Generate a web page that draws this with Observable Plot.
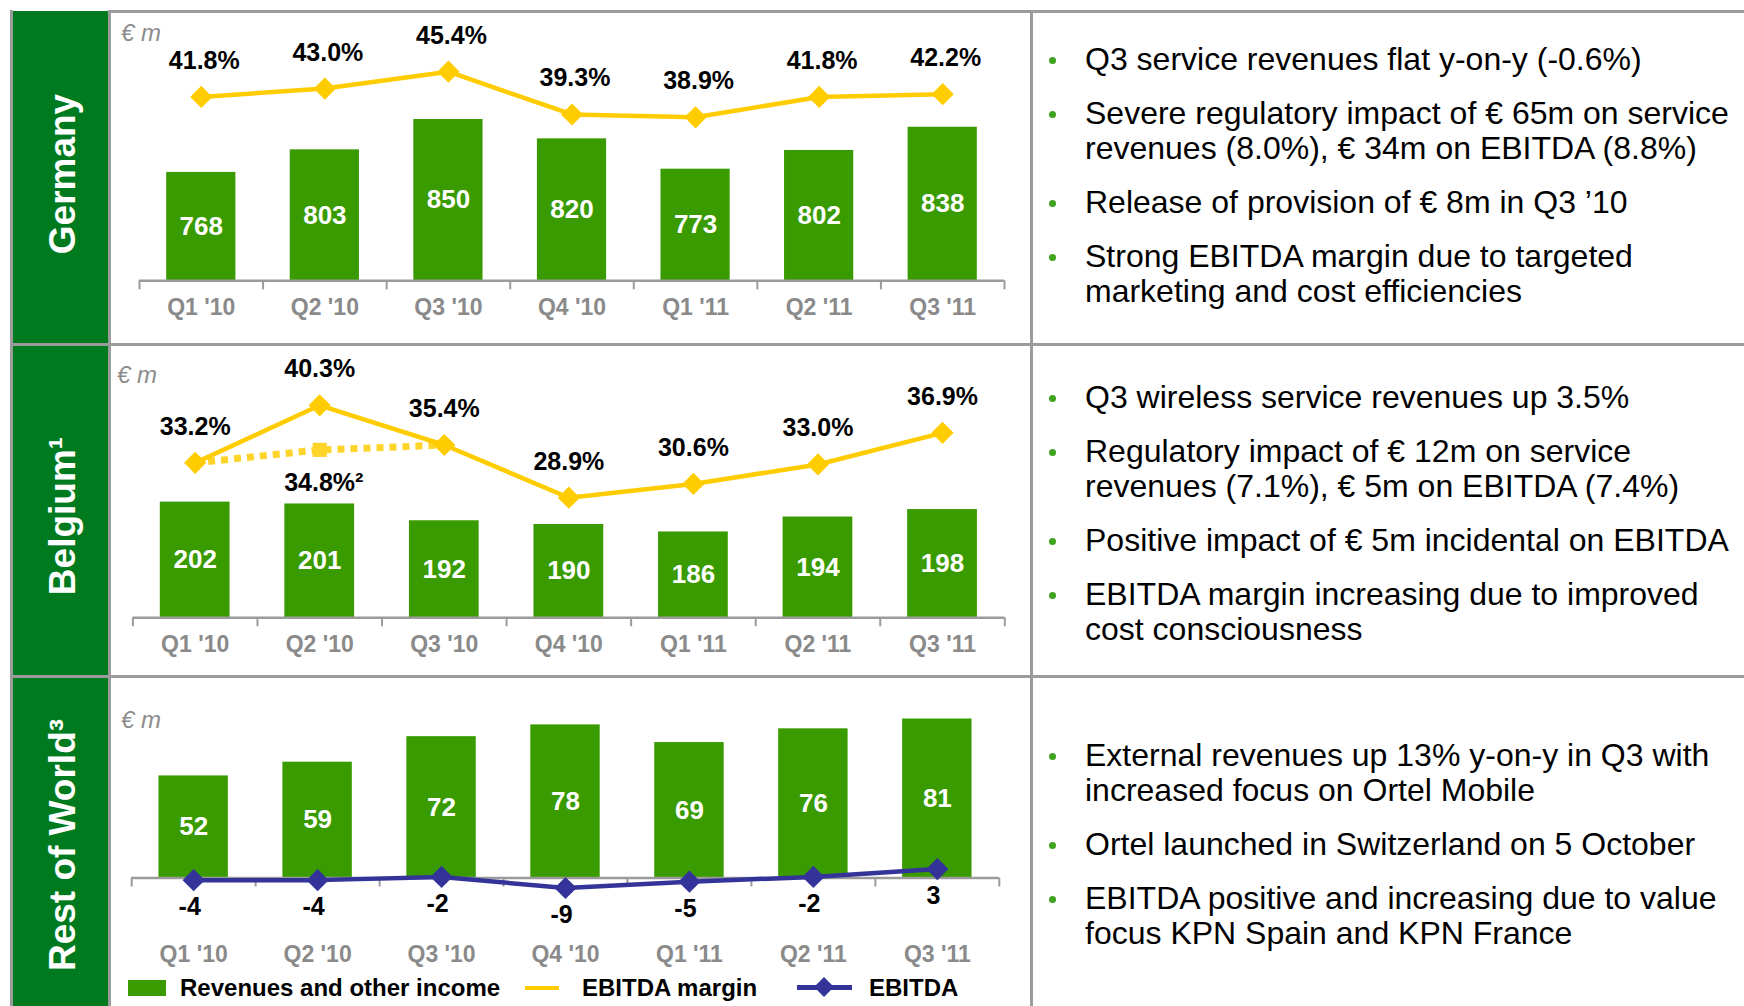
<!DOCTYPE html>
<html><head><meta charset="utf-8">
<script src="https://cdn.jsdelivr.net/npm/d3@7"></script>
<script src="https://cdn.jsdelivr.net/npm/@observablehq/plot@0.6"></script>
<style>
body{margin:0;background:#fff;}
#page{position:relative;width:1744px;height:1006px;overflow:hidden;font-family:"Liberation Sans",Arial,sans-serif;background:#fff;}
.hline{position:absolute;height:3px;background:#9B9B9B;}
.vline{position:absolute;width:3px;background:#9B9B9B;}
.band{position:absolute;background:#007A1E;}
.bandlabel{position:absolute;color:#fff;font-weight:bold;font-size:37px;white-space:nowrap;transform:translate(-50%,-50%) rotate(-90deg);}
.unit{position:absolute;color:#8C8C8C;font-style:italic;font-size:24px;line-height:24px;}
.bl{position:absolute;font-size:32px;color:#000;white-space:nowrap;line-height:36px;}
.dot{position:absolute;width:7px;height:7px;border-radius:50%;background:#3FA31E;}
.chart{position:absolute;}
.chart svg{position:absolute;left:0;top:0;overflow:visible;background:transparent;}
.lg{position:absolute;font-size:24px;font-weight:bold;color:#000;line-height:28px;white-space:nowrap;}
</style></head>
<body>
<div id="page"></div>
<script>
// ---------- DATA ----------
const quarters = ["Q1 '10", "Q2 '10", "Q3 '10", "Q4 '10", "Q1 '11", "Q2 '11", "Q3 '11"];

const germanyRevenue = [768, 803, 850, 820, 773, 802, 838];
const germanyMargin  = [41.8, 43.0, 45.4, 39.3, 38.9, 41.8, 42.2];

const belgiumRevenue = [202, 201, 192, 190, 186, 194, 198];
const belgiumMargin  = [33.2, 40.3, 35.4, 28.9, 30.6, 33.0, 36.9];
const belgiumAdjustedMargin = [33.2, 34.8, 35.4];   // Q1 '10 – Q3 '10, dotted
const belgiumAdjustedNote = "34.8%²";

const rowRevenue = [52, 59, 72, 78, 69, 76, 81];
const rowEbitda  = [-4, -4, -2, -9, -5, -2, 3];

const regionNames = ["Germany", "Belgium¹", "Rest of World³"];
const unitLabel = "€ m";

const germanyNotes = [
  ["Q3 service revenues flat y-on-y (-0.6%)"],
  ["Severe regulatory impact of € 65m on service", "revenues (8.0%), € 34m on EBITDA (8.8%)"],
  ["Release of provision of € 8m in Q3 ’10"],
  ["Strong EBITDA margin due to targeted", "marketing and cost efficiencies"]
];
const belgiumNotes = [
  ["Q3 wireless service revenues up 3.5%"],
  ["Regulatory impact of € 12m on service", "revenues (7.1%), € 5m on EBITDA (7.4%)"],
  ["Positive impact of € 5m incidental on EBITDA"],
  ["EBITDA margin increasing due to improved", "cost consciousness"]
];
const rowNotes = [
  ["External revenues up 13% y-on-y in Q3 with", "increased focus on Ortel Mobile"],
  ["Ortel launched in Switzerland on 5 October"],
  ["EBITDA positive and increasing due to value", "focus KPN Spain and KPN France"]
];

const legendLabels = ["Revenues and other income", "EBITDA margin", "EBITDA"];

// ---------- STYLE ----------
const BAR_GREEN = "#399B00";
const MARGIN_YELLOW = "#FFCC00";
const ADJ_YELLOW = "#FFD42A";
const EBITDA_BLUE = "#333399";
const AXIS_GRAY = "#9B9B9B";
const TICK_TEXT = "#8A8A8A";
const FONT = "'Liberation Sans', Arial, sans-serif";
const BAR_HALF = 0.28;
const CHART_W = 922;
const LINE_W = 4.5;
const MARKER_R = 10;

const page = document.getElementById("page");
function el(cls, css, text) {
  const d = document.createElement("div");
  d.className = cls;
  Object.assign(d.style, css);
  if (text != null) d.textContent = text;
  page.appendChild(d);
  return d;
}

// ---------- FRAME ----------
el("band", {left: "12px", top: "11px", width: "97px", height: "995px"});
el("vline", {left: "10px", top: "10px", height: "996px"});
el("vline", {left: "108px", top: "10px", height: "996px"});
el("vline", {left: "1030px", top: "10px", height: "996px"});
el("hline", {left: "108px", top: "10px", width: "1636px"});
el("hline", {left: "10px", top: "343px", width: "1734px"});
el("hline", {left: "10px", top: "675px", width: "1734px"});

// band labels
[[174, 0], [516, 1], [845, 2]].forEach(([cy, i]) => {
  el("bandlabel", {left: "63px", top: cy + "px"}, regionNames[i]);
});

// units
el("unit", {left: "121px", top: "21px"}, unitLabel);
el("unit", {left: "117px", top: "363px"}, unitLabel);
el("unit", {left: "121px", top: "708px"}, unitLabel);

// ---------- CHARTS ----------
const idx = d3.range(quarters.length);
const pct = v => v.toFixed(1) + "%";

function panel(cfg) {
  const box = el("chart", {left: "110px", top: cfg.top + "px", width: CHART_W + "px", height: cfg.h + "px"});
  const common = {
    width: CHART_W, height: cfg.h,
    marginTop: 0, marginBottom: cfg.h - cfg.axisY,
    marginLeft: cfg.ml, marginRight: cfg.mr,
    style: {background: "transparent", overflow: "visible", fontFamily: FONT}
  };
  const bars = Plot.plot({
    ...common,
    x: {type: "linear", domain: [-0.5, quarters.length - 0.5], axis: null},
    y: {domain: cfg.barDomain, range: [cfg.axisY, cfg.barTopPx], axis: null},
    marks: [
      Plot.rectY(idx, {x1: i => i - BAR_HALF, x2: i => i + BAR_HALF, y1: () => cfg.barDomain[0], y2: i => cfg.revenue[i], fill: BAR_GREEN}),
      Plot.ruleY([cfg.barDomain[0]], {stroke: AXIS_GRAY, strokeWidth: 2.5}),
      Plot.axisX({ticks: d3.range(quarters.length + 1).map(i => i - 0.5), tickSize: 9, tickFormat: () => "", stroke: AXIS_GRAY, strokeWidth: 2}),
      Plot.axisX({ticks: idx, tickSize: 0, tickPadding: cfg.labelPad, tickFormat: i => quarters[i], fill: TICK_TEXT, fontSize: 23, fontWeight: "bold"}),
      Plot.text(idx, {x: i => i, y: i => (cfg.barDomain[0] + cfg.revenue[i]) / 2, text: i => String(cfg.revenue[i]), fill: "white", fontSize: 26, fontWeight: "bold"})
    ]
  });
  box.appendChild(bars);
  const lines = Plot.plot({
    ...common,
    x: {type: "linear", domain: [-0.5, quarters.length - 0.5], axis: null},
    y: {domain: cfg.lineDomain, range: cfg.lineRange, axis: null},
    marks: cfg.lineMarks
  });
  box.appendChild(lines);
}

// Germany
panel({
  top: 12, h: 331, axisY: 268.3, ml: 29, mr: 28, labelPad: 18,
  revenue: germanyRevenue, barDomain: [600, 850], barTopPx: 107,
  lineDomain: [38.9, 45.4], lineRange: [104.8, 59.2],
  lineMarks: [
    Plot.line(idx, {x: i => i, y: i => germanyMargin[i], stroke: MARGIN_YELLOW, strokeWidth: LINE_W}),
    Plot.dot(idx, {x: i => i, y: i => germanyMargin[i], symbol: "diamond2", r: MARKER_R, fill: MARGIN_YELLOW}),
    Plot.text(idx, {x: i => i, y: i => germanyMargin[i], text: i => pct(germanyMargin[i]), dy: -36, dx: 3, fill: "#000", fontSize: 25, fontWeight: "bold"})
  ]
});

// Belgium
panel({
  top: 346, h: 329, axisY: 271.3, ml: 22.4, mr: 27.7, labelPad: 18,
  revenue: belgiumRevenue, barDomain: [140, 202], barTopPx: 155.6,
  lineDomain: [28.9, 40.3], lineRange: [151.2, 58.8],
  lineMarks: [
    Plot.line(belgiumAdjustedMargin.map((v, i) => i), {x: i => i, y: i => belgiumAdjustedMargin[i], stroke: ADJ_YELLOW, strokeWidth: 7, strokeDasharray: "7,6", strokeLinecap: "butt"}),
    Plot.dot([1], {x: i => i, y: i => belgiumAdjustedMargin[i], symbol: "square2", r: 9, fill: ADJ_YELLOW}),
    Plot.text([1], {x: i => i, y: i => belgiumAdjustedMargin[i], text: () => belgiumAdjustedNote, dy: 33, dx: 4, fill: "#000", fontSize: 25, fontWeight: "bold"}),
    Plot.line(idx, {x: i => i, y: i => belgiumMargin[i], stroke: MARGIN_YELLOW, strokeWidth: LINE_W}),
    Plot.dot(idx, {x: i => i, y: i => belgiumMargin[i], symbol: "diamond2", r: MARKER_R, fill: MARGIN_YELLOW}),
    Plot.text(idx, {x: i => i, y: i => belgiumMargin[i], text: i => pct(belgiumMargin[i]), dy: -36, fill: "#000", fontSize: 25, fontWeight: "bold"})
  ]
});

// Rest of World
panel({
  top: 678, h: 328, axisY: 199.5, ml: 21.2, mr: 33.2, labelPad: 68,
  revenue: rowRevenue, barDomain: [0, 81], barTopPx: 40.5,
  lineDomain: [-9, 3], lineRange: [209.5, 190.6],
  lineMarks: [
    Plot.line(idx, {x: i => i, y: i => rowEbitda[i], stroke: EBITDA_BLUE, strokeWidth: LINE_W}),
    Plot.dot(idx, {x: i => i, y: i => rowEbitda[i], symbol: "diamond2", r: MARKER_R, fill: EBITDA_BLUE}),
    Plot.text(idx, {x: i => i, y: i => rowEbitda[i], text: i => String(rowEbitda[i]), dy: 27, dx: -4, fill: "#000", fontSize: 25, fontWeight: "bold"})
  ]
});

// ---------- NOTES ----------
function notes(list, firstY) {
  let y = firstY;
  list.forEach((lines, b) => {
    if (b > 0) y += 54;
    el("dot", {left: "1049px", top: (y - 2) + "px"});
    lines.forEach((t, j) => {
      if (j > 0) y += 35;
      el("bl", {left: "1085px", top: (y - 18) + "px"}, t);
    });
  });
}
notes(germanyNotes, 59);
notes(belgiumNotes, 397);
notes(rowNotes, 755);

// ---------- LEGEND ----------
el("lg", {left: "128px", top: "980px", width: "38px", height: "16px", background: BAR_GREEN});
el("lg", {left: "180px", top: "974px"}, legendLabels[0]);
el("lg", {left: "525px", top: "986px", width: "34px", height: "4px", background: MARGIN_YELLOW});
el("lg", {left: "582px", top: "974px"}, legendLabels[1]);
el("lg", {left: "797px", top: "985px", width: "55px", height: "5px", background: EBITDA_BLUE});
el("lg", {left: "817px", top: "980px", width: "14px", height: "14px", background: EBITDA_BLUE, transform: "rotate(45deg)"});
el("lg", {left: "869px", top: "974px"}, legendLabels[2]);
</script>
</body></html>
